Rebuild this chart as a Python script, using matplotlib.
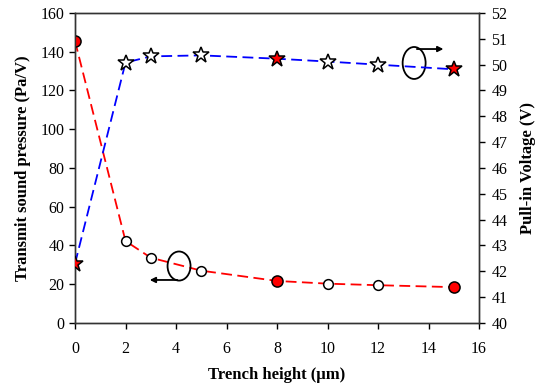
import matplotlib
matplotlib.use("Agg")
import matplotlib.pyplot as plt
from matplotlib.patches import Ellipse

plt.rcParams["font.family"] = ["Liberation Serif", "DejaVu Serif"]

# data
trench_height = [0, 2, 3, 5, 8, 10, 12, 15]
sound_pressure = [145.5, 42.3, 33.7, 27.0, 21.7, 20.3, 19.5, 18.5]
pull_in_voltage = [42.3, 50.08, 50.32, 50.36, 50.23, 50.12, 50.0, 49.82]
filled = [True, False, False, False, True, False, False, True]

fig = plt.figure(figsize=(5.42, 3.89), dpi=100)
ax = fig.add_axes([0.1384, 0.1697, 0.7454, 0.7969])
ax2 = ax.twinx()

# pressure curve (left axis)
ax.plot(trench_height, sound_pressure, color="red", ls=(0, (6, 3)), lw=1.3, zorder=2)
for x, y, f in zip(trench_height, sound_pressure, filled):
    ax.plot(x, y, "o", ms=8 if f else 7, mfc="red" if f else "white",
            mec="black", mew=1.1, zorder=3)

# pull-in voltage (right axis)
ax2.plot(trench_height, pull_in_voltage, color="blue", ls=(0, (6, 3)), lw=1.3, zorder=2)
for x, y, f in zip(trench_height, pull_in_voltage, filled):
    ax2.plot(x, y, "*", ms=12, mfc="red" if f else "white",
             mec="black", mew=1.1, zorder=3)

ax.set_xlim(0, 16)
ax.set_ylim(0, 160)
ax2.set_ylim(40, 52)
ax.set_xticks(range(0, 17, 2))
ax.set_yticks(range(0, 161, 20))
ax2.set_yticks(range(40, 53, 1))

for a in (ax, ax2):
    a.tick_params(direction="out", length=4, width=1, labelsize=11.5)
    for s in a.spines.values():
        s.set_linewidth(1)
        s.set_color("#333333")
ax.tick_params(axis="x", pad=9)
ax2.tick_params(axis="y", pad=5)

ax.set_xlabel("Trench height (μm)", fontsize=12, fontweight="bold", labelpad=7)
ax.set_ylabel("Transmit sound pressure (Pa/V)", fontsize=12, fontweight="bold", labelpad=7)
ax2.set_ylabel("Pull-in Voltage (V)", fontsize=12, fontweight="bold", labelpad=9)

# ellipses with arrows pointing to each axis
ax.add_patch(Ellipse((4.12, 29.4), 0.91, 15, fill=False, ec="black", lw=1.3, zorder=4))
ax.annotate("", xy=(2.85, 22.2), xytext=(4.16, 22.2),
            arrowprops=dict(arrowstyle="-|>", color="black", lw=1.3, mutation_scale=8))
ax.add_patch(Ellipse((13.43, 134.2), 0.91, 16.5, fill=False, ec="black", lw=1.3, zorder=4))
ax.annotate("", xy=(14.7, 141.4), xytext=(13.43, 141.4),
            arrowprops=dict(arrowstyle="-|>", color="black", lw=1.3, mutation_scale=8))

fig.savefig("out.png", dpi=100)
